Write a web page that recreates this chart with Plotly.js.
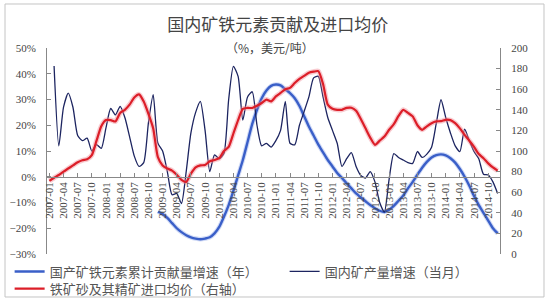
<!DOCTYPE html>
<html>
<head>
<meta charset="utf-8">
<script src="https://cdn.plot.ly/plotly-3.0.1.min.js"></script>
<style>html,body{margin:0;padding:0;background:#fff;}#chart{width:550px;height:300px;}</style>
</head>
<body>
<div id="chart"></div>
<script>
// ---- data ----
const years = ['2007','2008','2009','2010','2011','2012','2013','2014'];
const months = ['01','02','03','04','05','06','07','08','09','10','11','12'];
const categories = [];
years.forEach(y => months.forEach(m => categories.push(y + '-' + m)));

// 国产矿铁元素累计贡献量增速（年） (%), from 2008-12
const blueStart = 23;
const blueValues = [
  -13.6,-14.5,-16,-18,-20,-21.5,-22.7,-23.5,-24,-24.3,-24,-23.5,-22,-19.5,-15.5,-11,-5.5,0.5,6.5,13.5,
  20.5,26,30.5,33.5,35.3,35.8,35.5,34,32.5,30.5,27.5,23.5,19.5,16,12.5,9.5,6.5,4,1.5,-0.5,
  -2.5,-4.5,-6.5,-8,-9.5,-11,-12.2,-13.2,-13.7,-12.8,-11.3,-9.3,-7.3,-4.5,-2,0.8,3.5,5.8,7.5,8.4,
  8.7,8.3,7.2,5.5,3,0,-3.5,-7.5,-11,-14,-17,-20,-22
];

// 国内矿产量增速（当月） (%)
const navyValues = [
  null,43,12,27,32.5,27,16,14,15,10,12.5,11,
  19,26.5,24,27.3,23,15.6,8,4,5.5,21,31.9,13,
  10,2,-7,-6.5,-10.4,2,17,25,29.3,18,2,8.5,
  7,9,30,42.9,39,22,31,33,20,12,13,11.5,
  14,18,29.3,13,12.4,20,25.4,31,38.4,39,31,23,
  18,13,4,7,9.4,4,0.5,-0.5,2,-2,-10,-13.7,
  -1,9,7.5,6.5,5.5,5.2,9.8,7.5,8.8,11.5,20.8,29.9,
  23,17,12,9.8,18.5,14,9.8,7,1,0.7,-2,-6.5
];

// 铁矿砂及其精矿进口均价（右轴） (美元/吨)
const redValues = [
  71,74,76.7,80,83,86,89,91,92,96,110,124,
  130,130,128.7,137,140,145,152,155,148,136,122,94,
  86,83,81,77,72,70,78,84,86,86.4,90,91.3,
  93,100,104,117,130,141,141.8,141.8,144,146.6,149.9,148.2,
  153,156.4,160,161.3,166,170,173,176,177,177.5,165,145,
  141,140,140,141.8,142,139,131,122,113,106,110,114,
  120.6,126,134,140,137,133.6,125,120.6,124,127,128.7,129,
  130.3,130,127,122,115.7,110,104,97,93,88,84,81
];

const leftTicks = [-30,-20,-10,0,10,20,30,40,50];
const leftTickText = ['−30%','−20%','−10%','0%','10%','20%','30%','40%','50%'];
const rightTicks = [0,20,40,60,80,100,120,140,160,180,200];
const tickLabels = categories.filter((c, i) => i % 3 === 0);

const names = ['国产矿铁元素累计贡献量增速（年）','国内矿产量增速（当月）','铁矿砂及其精矿进口均价（右轴）'];
const titleText = '国内矿铁元素贡献及进口均价';
const subtitleText = '（%，美元/吨）';

// ---- chart ----
const blueX = categories.slice(blueStart, blueStart + blueValues.length);
const serif = 'Liberation Serif';
const cjk = 'Noto Sans CJK SC';

const traces = [
  {x: blueX, y: blueValues, type:'scatter', mode:'lines', showlegend:false, hoverinfo:'skip',
   line:{color:'rgba(120,150,230,0.35)', width:4.5, shape:'spline', smoothing:0.7}},
  {x: blueX, y: blueValues, type:'scatter', mode:'lines', name: names[0], legend:'legend',
   line:{color:'#3a5fc8', width:2.4, shape:'spline', smoothing:0.7}},
  {x: categories, y: navyValues, type:'scatter', mode:'lines', name: names[1], legend:'legend2',
   line:{color:'#1c2460', width:1.3, shape:'spline', smoothing:0.6}},
  {x: categories, y: redValues, yaxis:'y2', type:'scatter', mode:'lines', showlegend:false, hoverinfo:'skip',
   line:{color:'rgba(240,140,150,0.45)', width:5, shape:'spline', smoothing:0.6}},
  {x: categories, y: redValues, yaxis:'y2', type:'scatter', mode:'lines', name: names[2], legend:'legend3',
   line:{color:'#dc1e28', width:2.2, shape:'spline', smoothing:0.6}}
];

const legendBase = {orientation:'h', xref:'container', yref:'container', xanchor:'left', yanchor:'top',
  font:{family:cjk, size:13, color:'#555'}, bgcolor:'rgba(0,0,0,0)', itemwidth:30};

const layout = {
  width:550, height:300,
  margin:{l:47, r:50, t:48, b:46},
  paper_bgcolor:'#ffffff', plot_bgcolor:'#ffffff',
  font:{family: serif, size:11, color:'#444'},
  title:{text:titleText, font:{family:cjk, size:17, color:'#444'},
         xref:'container', x:0.505, xanchor:'center', yref:'container', y:0.915, yanchor:'middle'},
  xaxis:{type:'category', categoryorder:'array', categoryarray:categories, range:[-0.5, 95.5],
         anchor:'free', position:0.375, showline:true, linecolor:'#888', linewidth:1,
         ticks:'inside', ticklen:4, tickcolor:'#888', tickmode:'array',
         tickvals: tickLabels, ticktext: tickLabels, tickangle:-90,
         tickfont:{family:serif, size:11, color:'#444'}, showgrid:false, zeroline:false, fixedrange:true},
  yaxis:{range:[-30,50], tickmode:'array', tickvals:leftTicks, ticktext:leftTickText,
         showline:true, linecolor:'#888', linewidth:1, ticks:'inside', ticklen:4, tickcolor:'#888',
         ticklabelstandoff:8, tickfont:{family:serif, size:11, color:'#444'},
         showgrid:false, zeroline:false},
  yaxis2:{range:[0,200], overlaying:'y', side:'right', tickmode:'array', tickvals:rightTicks,
         showline:true, linecolor:'#888', linewidth:1, ticks:'inside', ticklen:4, tickcolor:'#888',
         ticklabelstandoff:8, tickfont:{family:serif, size:11, color:'#444'},
         showgrid:false, zeroline:false},
  legend:Object.assign({}, legendBase, {x:0.0175, y:0.145}),
  legend2:Object.assign({}, legendBase, {x:0.5175, y:0.145}),
  legend3:Object.assign({}, legendBase, {x:0.0175, y:0.088}),
  annotations:[{text:subtitleText, xref:'paper', yref:'paper', x:0.492, y:1.003, xanchor:'center', yanchor:'middle',
                showarrow:false, font:{family:cjk, size:12, color:'#444'}}],
  shapes:[{type:'rect', xref:'paper', yref:'paper', x0:-0.0927, x1:1.0971, y0:-0.2087, y1:1.2136,
           line:{color:'#c4c4c4', width:1}, fillcolor:'rgba(0,0,0,0)', layer:'below'}]
};

Plotly.newPlot('chart', traces, layout, {displayModeBar:false, staticPlot:true});
</script>
</body>
</html>
